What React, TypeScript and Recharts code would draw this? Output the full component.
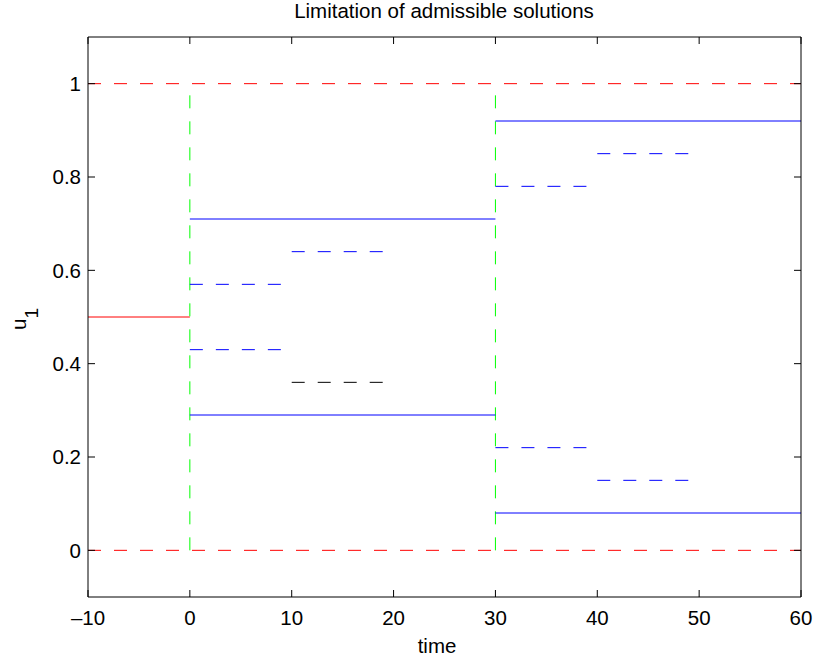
import React from "react";
import { ComposedChart, Line, XAxis, YAxis } from "recharts";

// axes
const timeDomain = [-10, 60];
const valueDomain = [-0.1, 1.1];
const timeTicks = [-10, 0, 10, 20, 30, 40, 50, 60];
const valueTicks = [0, 0.2, 0.4, 0.6, 0.8, 1];

// admissible bounds
const boundTimes = [-10, 60];
const lowerBound = 0;
const upperBound = 1;

// initial control before t = 0
const initialTimes = [-10, 0];
const initialValue = 0.5;

// switching instants (green verticals)
const switchTimes = [0, 30];

// stage limits (solid blue)
const stageStarts = [0, 30];
const stageEnds = [30, 60];
const stageUpper = [0.71, 0.92];
const stageLower = [0.29, 0.08];

// sub-interval limits (short dashed)
const subStarts = [0, 10, 30, 40];
const subEnds = [9, 19, 39, 49];
const subUpper = [0.57, 0.64, 0.78, 0.85];
const subLower = [0.43, 0.36, 0.22, 0.15];

const FONT = "'Liberation Sans', Arial, Helvetica, sans-serif";
const FS = 20.5;
const RED = "#ff0000";
const BLUE = "#0000ff";
const GREEN = "#00ff00";
const DASH = "13 13";

type Pt = { t: number; u: number };
const seg = (t0: number, t1: number, u0: number, u1: number): Pt[] => [
  { t: t0, u: u0 },
  { t: t1, u: u1 },
];

type Series = { id: string; data: Pt[]; stroke: string; dash?: string };

const series: Series[] = [
  { id: "init", data: seg(initialTimes[0], initialTimes[1], initialValue, initialValue), stroke: RED },
  ...switchTimes.map((s, i) => ({
    id: `switch${i}`,
    data: seg(s, s, lowerBound, upperBound),
    stroke: GREEN,
    dash: DASH,
  })),
  { id: "upper", data: seg(boundTimes[0], boundTimes[1], upperBound, upperBound), stroke: RED, dash: DASH },
  { id: "lower", data: seg(boundTimes[0], boundTimes[1], lowerBound, lowerBound), stroke: RED, dash: DASH },
  ...stageStarts.flatMap((s, i) => [
    { id: `stageU${i}`, data: seg(s, stageEnds[i], stageUpper[i], stageUpper[i]), stroke: BLUE },
    { id: `stageL${i}`, data: seg(s, stageEnds[i], stageLower[i], stageLower[i]), stroke: BLUE },
  ]),
  ...subStarts.flatMap((s, i) => [
    { id: `subU${i}`, data: seg(s, subEnds[i], subUpper[i], subUpper[i]), stroke: BLUE, dash: DASH },
    { id: `subL${i}`, data: seg(s, subEnds[i], subLower[i], subLower[i]), stroke: i === 1 ? "#000" : BLUE, dash: DASH },
  ]),
];

const fmtTime = (v: number) => (v < 0 ? `\u2013${Math.abs(v)}` : `${v}`);

const tickStyle = { fill: "#000", fontSize: FS, fontFamily: FONT };

export default function App() {
  return (
    <div style={{ position: "absolute", left: 0, top: 0, width: 817, height: 662, background: "#fff" }}>
      <ComposedChart width={817} height={662} margin={{ top: 17, right: 6, bottom: 25, left: 28 }}>
        <XAxis
          dataKey="t"
          type="number"
          domain={timeDomain}
          ticks={timeTicks}
          allowDataOverflow
          height={40}
          stroke="#000"
          tickSize={-7}
          tickMargin={20}
          tick={tickStyle}
          tickFormatter={fmtTime}
        />
        <XAxis
          xAxisId="top"
          orientation="top"
          dataKey="t"
          type="number"
          domain={timeDomain}
          ticks={timeTicks}
          allowDataOverflow
          height={20}
          stroke="#000"
          tickSize={-7}
          tick={tickStyle}
          tickFormatter={() => ""}
        />
        <YAxis
          type="number"
          domain={valueDomain}
          ticks={valueTicks}
          allowDataOverflow
          width={60}
          stroke="#000"
          tickSize={-7}
          tickMargin={14}
          tick={tickStyle}
        />
        <YAxis
          yAxisId="right"
          orientation="right"
          type="number"
          domain={valueDomain}
          ticks={valueTicks}
          allowDataOverflow
          width={10}
          stroke="#000"
          tickSize={-7}
          tick={tickStyle}
          tickFormatter={() => ""}
        />
        {series.map((s) => (
          <Line
            key={s.id}
            data={s.data}
            dataKey="u"
            type="linear"
            stroke={s.stroke}
            strokeWidth={1}
            strokeDasharray={s.dash}
            dot={false}
            activeDot={false}
            legendType="none"
            isAnimationActive={false}
          />
        ))}
      </ComposedChart>
      <svg
        width={817}
        height={662}
        style={{ position: "absolute", left: 0, top: 0, pointerEvents: "none" }}
        fontFamily={FONT}
      >
        <text x={444} y={18} textAnchor="middle" fontSize={FS} fill="#000">
          Limitation of admissible solutions
        </text>
        <text x={437} y={653} textAnchor="middle" fontSize={FS} fill="#000">
          time
        </text>
        <text transform="translate(26, 319) rotate(-90)" textAnchor="middle" fontSize={FS} fill="#000">
          u
          <tspan dy={12} fontSize={19}>
            1
          </tspan>
        </text>
      </svg>
    </div>
  );
}
